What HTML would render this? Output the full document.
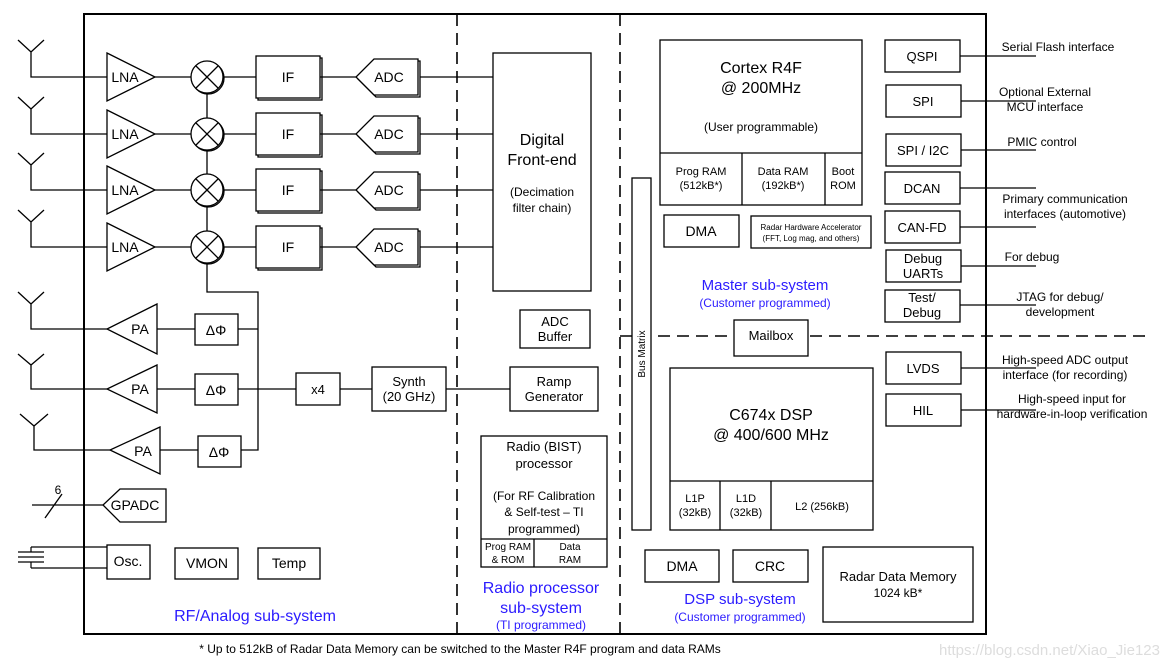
<!DOCTYPE html>
<html><head><meta charset="utf-8"><style>
html,body{margin:0;padding:0;background:#fff;}
svg{display:block;font-family:"Liberation Sans",Arial,sans-serif;}
text{fill:#000;}
.b{fill:#2b1bff;}
</style></head><body>
<svg width="1167" height="667" viewBox="0 0 1167 667" xmlns="http://www.w3.org/2000/svg">
<g fill="none" stroke="#000" stroke-width="1.3">
<rect x="84" y="14" width="902" height="620" stroke-width="2"/>
<line x1="457" y1="14" x2="457" y2="634" stroke-dasharray="12,7" stroke-width="1.6"/>
<line x1="620" y1="14" x2="620" y2="634" stroke-dasharray="12,7" stroke-width="1.6"/>
<line x1="620" y1="336" x2="1145" y2="336" stroke-dasharray="12,7" stroke-width="1.6"/>

<g id="rx">
<path d="M18,40 L31,52 L44,40 M31,52 V77 H107"/>
<path d="M107,53 L155,77 L107,101 Z"/>
<line x1="155" y1="77" x2="191" y2="77"/>
<circle cx="208" cy="78" r="16"/><circle cx="207" cy="77" r="16" fill="#fff"/>
<path d="M196,66 L218,88 M218,66 L196,88"/>
<line x1="223" y1="77" x2="256" y2="77"/>
<rect x="258" y="58" width="64" height="42"/><rect x="256" y="56" width="64" height="42" fill="#fff"/>
<line x1="320" y1="77" x2="356" y2="77"/>
<path d="M376,61 H420 V97 H376 L358,79 Z"/>
<path d="M374,59 H418 V95 H374 L356,77 Z" fill="#fff"/>
<line x1="420" y1="77" x2="493" y2="77"/>
</g>
<use href="#rx" y="57"/>
<use href="#rx" y="113"/>
<use href="#rx" y="170"/>
<line x1="207" y1="93" x2="207" y2="118"/>
<line x1="207" y1="150" x2="207" y2="174"/>
<line x1="207" y1="206" x2="207" y2="231"/>
<path d="M207,263 V292 H258 V450 H241"/>

<rect x="493" y="53" width="98" height="238"/>
<rect x="520" y="310" width="70" height="38"/>
<rect x="510" y="367" width="88" height="44"/>
<rect x="372" y="367" width="74" height="44"/>
<rect x="296" y="373" width="44" height="32"/>
<path d="M238,389 H296 M340,389 H372 M446,389 H510"/>

<path d="M18,292 L31,304 L44,292 M31,304 V329 H107"/>
<path d="M157,304 L107,329 L157,354 Z"/>
<path d="M157,329 H195"/><rect x="195" y="314" width="43" height="31"/><path d="M238,329 H258"/>
<path d="M18,354 L31,365 L44,354 M31,365 V389 H107"/>
<path d="M157,365 L107,389 L157,413 Z"/>
<path d="M157,389 H195"/><rect x="195" y="374" width="43" height="31"/>
<path d="M20,414 L34,426 L48,414 M34,426 V450 H110"/>
<path d="M160,427 L110,450 L160,474 Z"/>
<path d="M160,450 H198"/><rect x="198" y="436" width="43" height="31"/>

<path d="M32,505 H103 M45,518 L62,494"/>
<path d="M120,489 H166 V522 H120 L103,505 Z"/>
<path d="M18,552 H44 M18,557 H44 M18,562 H44 M31,547 V552 M31,562 V568 M31,547 H107 M31,568 H107" stroke-width="1.2"/>
<rect x="107" y="545" width="43" height="34"/>
<rect x="175" y="548" width="63" height="31"/>
<rect x="258" y="548" width="62" height="31"/>

<rect x="481" y="436" width="126" height="131"/>
<path d="M481,539 H607 M534,539 V567"/>

<rect x="632" y="178" width="19" height="352" fill="#fff"/>
<rect x="660" y="40" width="202" height="165"/>
<path d="M660,153 H862 M742,153 V205 M825,153 V205"/>
<rect x="664" y="215" width="75" height="32"/>
<rect x="751" y="216" width="120" height="32"/>
<rect x="734" y="320" width="74" height="36" fill="#fff"/>
<rect x="670" y="368" width="203" height="162"/>
<path d="M670,481 H873 M720,481 V530 M771,481 V530"/>
<rect x="645" y="550" width="74" height="32"/>
<rect x="733" y="550" width="75" height="32"/>
<rect x="823" y="547" width="150" height="75"/>

<rect x="885" y="40" width="75" height="32"/><path d="M960,56 H1036"/>
<rect x="886" y="85" width="75" height="32"/><path d="M961,101 H1036"/>
<rect x="886" y="134" width="75" height="32"/><path d="M961,150 H1036"/>
<rect x="885" y="172" width="75" height="32"/><path d="M960,188 H1036"/>
<rect x="885" y="211" width="75" height="32"/><path d="M960,227 H1036"/>
<rect x="886" y="250" width="75" height="32"/><path d="M961,266 H1036"/>
<rect x="885" y="290" width="75" height="32"/><path d="M960,305 H1036"/>
<rect x="886" y="352" width="75" height="32"/><path d="M961,368 H1036"/>
<rect x="886" y="394" width="75" height="32"/><path d="M961,410 H1036"/>
</g>

<g font-size="14" text-anchor="middle">
<text x="125" y="82">LNA</text><text x="125" y="139">LNA</text><text x="125" y="195">LNA</text><text x="125" y="252">LNA</text>
<text x="288" y="82">IF</text><text x="288" y="139">IF</text><text x="288" y="195">IF</text><text x="288" y="252">IF</text>
<text x="389" y="82">ADC</text><text x="389" y="139">ADC</text><text x="389" y="195">ADC</text><text x="389" y="252">ADC</text>
<text x="542" y="145" font-size="16">Digital</text>
<text x="542" y="165" font-size="16">Front-end</text>
<text x="542" y="196" font-size="12">(Decimation</text>
<text x="542" y="212" font-size="12">filter chain)</text>
<text x="555" y="326" font-size="13">ADC</text><text x="555" y="341" font-size="13">Buffer</text>
<text x="554" y="386" font-size="13">Ramp</text><text x="554" y="401" font-size="13">Generator</text>
<text x="409" y="386" font-size="13">Synth</text><text x="409" y="401" font-size="13">(20 GHz)</text>
<text x="318" y="394" font-size="13">x4</text>
<text x="140" y="334">PA</text><text x="140" y="394">PA</text><text x="143" y="456">PA</text>
<text x="216" y="335">ΔΦ</text><text x="216" y="395">ΔΦ</text><text x="219" y="457">ΔΦ</text>
<text x="58" y="494" font-size="12">6</text>
<text x="135" y="510">GPADC</text>
<text x="128" y="566">Osc.</text>
<text x="207" y="568">VMON</text>
<text x="289" y="568">Temp</text>
<text x="255" y="621" font-size="16" class="b">RF/Analog sub-system</text>
<text x="544" y="451" font-size="13">Radio (BIST)</text>
<text x="544" y="468" font-size="13">processor</text>
<text x="544" y="500" font-size="12">(For RF Calibration</text>
<text x="544" y="516" font-size="12">&amp; Self-test  – TI</text>
<text x="544" y="533" font-size="12">programmed)</text>
<text x="508" y="550" font-size="10">Prog RAM</text><text x="508" y="563" font-size="10">&amp; ROM</text>
<text x="570" y="550" font-size="10">Data</text><text x="570" y="563" font-size="10">RAM</text>
<text x="541" y="593" font-size="16" class="b">Radio processor</text>
<text x="541" y="613" font-size="16" class="b">sub-system</text>
<text x="541" y="629" font-size="12" class="b">(TI programmed)</text>
<text x="645" y="354" font-size="10" transform="rotate(-90 645 354)">Bus Matrix</text>
<text x="761" y="73" font-size="16">Cortex R4F</text>
<text x="761" y="93" font-size="16">@ 200MHz</text>
<text x="761" y="131" font-size="12">(User programmable)</text>
<text x="701" y="175" font-size="11">Prog RAM</text><text x="701" y="189" font-size="11">(512kB*)</text>
<text x="783" y="175" font-size="11">Data RAM</text><text x="783" y="189" font-size="11">(192kB*)</text>
<text x="843" y="175" font-size="11">Boot</text><text x="843" y="189" font-size="11">ROM</text>
<text x="701" y="236">DMA</text>
<text x="811" y="230" font-size="8">Radar Hardware Accelerator</text>
<text x="811" y="241" font-size="8">(FFT, Log mag, and others)</text>
<text x="765" y="290" font-size="15" class="b">Master sub-system</text>
<text x="765" y="307" font-size="12" class="b">(Customer programmed)</text>
<text x="771" y="340" font-size="13">Mailbox</text>
<text x="771" y="420" font-size="16">C674x DSP</text>
<text x="771" y="440" font-size="16">@ 400/600 MHz</text>
<text x="695" y="502" font-size="11">L1P</text><text x="695" y="516" font-size="11">(32kB)</text>
<text x="746" y="502" font-size="11">L1D</text><text x="746" y="516" font-size="11">(32kB)</text>
<text x="822" y="510" font-size="11">L2 (256kB)</text>
<text x="682" y="571">DMA</text>
<text x="770" y="571">CRC</text>
<text x="898" y="581" font-size="13">Radar Data Memory</text>
<text x="898" y="597" font-size="12">1024 kB*</text>
<text x="740" y="604" font-size="15" class="b">DSP sub-system</text>
<text x="740" y="621" font-size="12" class="b">(Customer programmed)</text>
<text x="922" y="61" font-size="13">QSPI</text>
<text x="923" y="106" font-size="13">SPI</text>
<text x="923" y="155" font-size="13">SPI / I2C</text>
<text x="922" y="193" font-size="13">DCAN</text>
<text x="922" y="232" font-size="13">CAN-FD</text>
<text x="923" y="263" font-size="13">Debug</text><text x="923" y="278" font-size="13">UARTs</text>
<text x="922" y="302" font-size="13">Test/</text><text x="922" y="317" font-size="13">Debug</text>
<text x="923" y="373" font-size="13">LVDS</text>
<text x="923" y="415" font-size="13">HIL</text>
</g>
<g font-size="12" text-anchor="middle">
<text x="1058" y="51">Serial Flash interface</text>
<text x="1045" y="96">Optional External</text><text x="1045" y="111">MCU interface</text>
<text x="1042" y="146">PMIC control</text>
<text x="1065" y="203">Primary communication</text><text x="1065" y="218">interfaces (automotive)</text>
<text x="1032" y="261">For debug</text>
<text x="1060" y="301">JTAG for debug/</text><text x="1060" y="316">development</text>
<text x="1065" y="364">High-speed ADC output</text><text x="1065" y="379">interface (for recording)</text>
<text x="1072" y="403">High-speed input for</text><text x="1072" y="418">hardware-in-loop verification</text>
<text x="460" y="653">* Up to 512kB of Radar Data Memory can be switched to the Master R4F program and data RAMs</text>
</g>
<text x="1160" y="655" font-size="15" text-anchor="end" style="fill:#ddd">https://blog.csdn.net/Xiao_Jie123</text>
</svg>
</body></html>
